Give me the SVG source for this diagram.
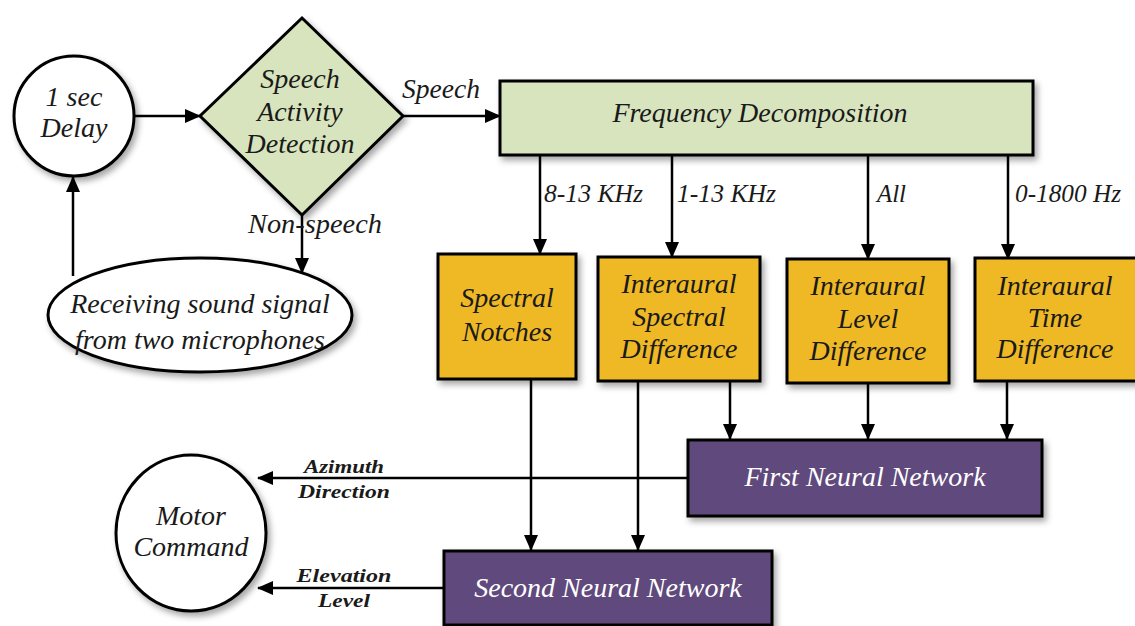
<svg xmlns="http://www.w3.org/2000/svg" width="1135" height="626" viewBox="0 0 1135 626">
<defs>
<marker id="arr" markerUnits="userSpaceOnUse" markerWidth="16" markerHeight="14" refX="15" refY="7" orient="auto">
<path d="M0,0 L16,7 L0,14 Z" fill="#000"/>
</marker>
<filter id="sh" x="-10%" y="-10%" width="130%" height="130%">
<feDropShadow dx="3" dy="4" stdDeviation="3" flood-color="#000" flood-opacity="0.35"/>
</filter>
</defs>
<style>
.t{font-family:"Liberation Serif","Times New Roman",serif;font-style:italic;fill:#1a1a1a;text-anchor:middle;font-size:28px}
.w{fill:#fff}
.l{font-size:25px;text-anchor:start}
.b{font-weight:bold;font-size:19px}
.s{stroke:#000;stroke-width:3}
.g{fill:#d7e4bd}
.y{fill:#efb927}
.p{fill:#604a7b}
.c{fill:none;stroke:#000;stroke-width:2.5}
</style>
<rect width="1135" height="626" fill="#fff"/>

<g id="connectors">
<path class="c" d="M135,116 H200" marker-end="url(#arr)"/>
<path class="c" d="M403,116 H500" marker-end="url(#arr)"/>
<path class="c" d="M73,276 V177" marker-end="url(#arr)"/>
<path class="c" d="M302,215 V273" marker-end="url(#arr)"/>
<path class="c" d="M540,155 V254" marker-end="url(#arr)"/>
<path class="c" d="M672,155 V257" marker-end="url(#arr)"/>
<path class="c" d="M868,155 V259" marker-end="url(#arr)"/>
<path class="c" d="M1008,155 V259" marker-end="url(#arr)"/>
<path class="c" d="M730,381 V439" marker-end="url(#arr)"/>
<path class="c" d="M868,383 V439" marker-end="url(#arr)"/>
<path class="c" d="M1007,381 V439" marker-end="url(#arr)"/>
<path class="c" d="M688,478 H258" marker-end="url(#arr)"/>
<path class="c" d="M444,588 H258" marker-end="url(#arr)"/>
<path class="c" d="M531,379 V550" marker-end="url(#arr)"/>
<path class="c" d="M638,381 V550" marker-end="url(#arr)"/>
<text class="t" x="441" y="98" font-size="26" textLength="78" lengthAdjust="spacingAndGlyphs">Speech</text>
<text class="t" x="315" y="233" font-size="26" textLength="134" lengthAdjust="spacingAndGlyphs">Non-speech</text>
<text class="t l" x="544" y="202" textLength="99" lengthAdjust="spacingAndGlyphs">8-13 KHz</text>
<text class="t l" x="677" y="202" textLength="99" lengthAdjust="spacingAndGlyphs">1-13 KHz</text>
<text class="t l" x="877" y="202" textLength="29" lengthAdjust="spacingAndGlyphs">All</text>
<text class="t l" x="1015" y="202" textLength="106" lengthAdjust="spacingAndGlyphs">0-1800 Hz</text>
<text class="t b" x="344" y="473" textLength="80" lengthAdjust="spacingAndGlyphs">Azimuth</text>
<text class="t b" x="344" y="498" textLength="92" lengthAdjust="spacingAndGlyphs">Direction</text>
<text class="t b" x="344" y="582" textLength="95" lengthAdjust="spacingAndGlyphs">Elevation</text>
<text class="t b" x="344" y="607" textLength="52" lengthAdjust="spacingAndGlyphs">Level</text>
</g>

<g id="delay">
<circle class="s" cx="74" cy="116" r="60" fill="#fff" filter="url(#sh)"/>
<text class="t" x="74" y="106">1 sec</text>
<text class="t" x="74" y="137">Delay</text>
</g>

<g id="sad">
<path class="s g" d="M302,18 L403,116 L302,215 L200,116 Z" filter="url(#sh)"/>
<text class="t" x="300" y="88">Speech</text>
<text class="t" x="300" y="121">Activity</text>
<text class="t" x="300" y="153">Detection</text>
</g>

<g id="receiving">
<ellipse class="s" cx="200" cy="315" rx="152" ry="57" fill="#fff" filter="url(#sh)"/>
<text class="t" x="200" y="313">Receiving sound signal</text>
<text class="t" x="200" y="349">from two microphones</text>
</g>

<g id="freq">
<rect class="s g" x="500" y="81" width="533" height="74" filter="url(#sh)"/>
<text class="t" x="760" y="122">Frequency Decomposition</text>
</g>

<g id="notches">
<rect class="s y" x="438" y="254" width="138" height="125" filter="url(#sh)"/>
<text class="t" x="507" y="307">Spectral</text>
<text class="t" x="507" y="341">Notches</text>
</g>

<g id="isd">
<rect class="s y" x="598" y="257" width="162" height="124" filter="url(#sh)"/>
<text class="t" x="679" y="293">Interaural</text>
<text class="t" x="679" y="326">Spectral</text>
<text class="t" x="679" y="358">Difference</text>
</g>

<g id="ild">
<rect class="s y" x="787" y="259" width="162" height="124" filter="url(#sh)"/>
<text class="t" x="868" y="295">Interaural</text>
<text class="t" x="868" y="328">Level</text>
<text class="t" x="868" y="360">Difference</text>
</g>

<g id="itd">
<rect class="s y" x="975" y="258" width="170" height="123" filter="url(#sh)"/>
<text class="t" x="1055" y="295">Interaural</text>
<text class="t" x="1055" y="327">Time</text>
<text class="t" x="1055" y="358">Difference</text>
</g>

<g id="nn1">
<rect class="s p" x="688" y="440" width="354" height="76" filter="url(#sh)"/>
<text class="t w" x="865" y="486">First Neural Network</text>
</g>

<g id="nn2">
<rect class="s p" x="444" y="551" width="328" height="74" filter="url(#sh)"/>
<text class="t w" x="608" y="597">Second Neural Network</text>
</g>

<g id="motor">
<ellipse class="s" cx="191" cy="533" rx="75" ry="78" fill="#fff" filter="url(#sh)"/>
<text class="t" x="191" y="525">Motor</text>
<text class="t" x="191" y="556">Command</text>
</g>
</svg>
